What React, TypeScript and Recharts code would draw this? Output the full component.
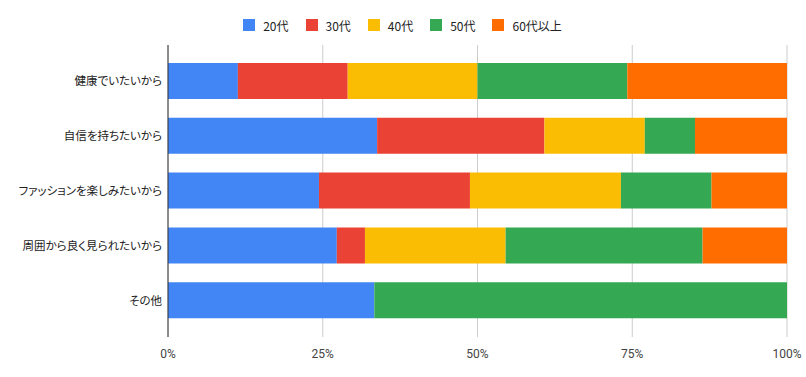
import { type CSSProperties } from 'react'
import { BarChart, Bar, XAxis, YAxis, CartesianGrid } from 'recharts'

const categories = [
  '健康でいたいから',
  '自信を持ちたいから',
  'ファッションを楽しみたいから',
  '周囲から良く見られたいから',
  'その他',
]

const age20s = [7, 25, 10, 6, 1]
const age30s = [11, 20, 10, 1, 0]
const age40s = [13, 12, 10, 5, 0]
const age50s = [15, 6, 6, 7, 2]
const age60plus = [16, 11, 5, 3, 0]

const percentTicks = [0, 0.25, 0.5, 0.75, 1]

const series = [
  { key: '20代', values: age20s, color: '#4285F4' },
  { key: '30代', values: age30s, color: '#EA4335' },
  { key: '40代', values: age40s, color: '#FBBC04' },
  { key: '50代', values: age50s, color: '#34A853' },
  { key: '60代以上', values: age60plus, color: '#FF6D01' },
]

const data = categories.map((name, i) => {
  const row: Record<string, string | number> = { name }
  series.forEach((s) => {
    row[s.key] = s.values[i]
  })
  return row
})

const fontFamily = '"Noto Sans CJK JP", Roboto, "Noto Sans", sans-serif'

const wrapperStyle: CSSProperties = {
  position: 'absolute',
  left: 0,
  top: 0,
  width: 806,
  height: 377,
  background: '#fff',
  fontFamily,
}

const legendStyle: CSSProperties = {
  position: 'absolute',
  top: 16,
  left: 0,
  width: 806,
  height: 18,
  display: 'flex',
  justifyContent: 'center',
  alignItems: 'center',
  paddingLeft: 16,
  boxSizing: 'border-box',
  zIndex: 1,
}

function ChartLegend() {
  return (
    <div style={legendStyle}>
      {series.map((s) => (
        <div key={s.key} style={{ display: 'flex', alignItems: 'center', marginRight: 17 }}>
          <span style={{ width: 12, height: 12, background: s.color, display: 'inline-block', marginRight: 8 }} />
          <span style={{ fontSize: 12, color: '#222', fontFamily }}>{s.key}</span>
        </div>
      ))}
    </div>
  )
}

export default function App() {
  return (
    <div style={wrapperStyle}>
      <ChartLegend />
      <BarChart
        width={806}
        height={377}
        data={data}
        layout="vertical"
        stackOffset="expand"
        margin={{ top: 45, right: 19, bottom: 10, left: 0 }}
      >
        <CartesianGrid horizontal={false} stroke="#cccccc" />
        <XAxis
          type="number"
          domain={[0, 1]}
          ticks={percentTicks}
          tickFormatter={(v: number) => `${Math.round(v * 100)}%`}
          axisLine={false}
          tickLine={false}
          height={30}
          tickMargin={6}
          tick={{ fill: '#444', fontSize: 12, fontFamily: 'Roboto, sans-serif' }}
        />
        <YAxis
          type="category"
          dataKey="name"
          width={168}
          axisLine={{ stroke: '#333' }}
          tickLine={false}
          tickSize={4}
          tickMargin={2}
          padding={{ top: 9, bottom: 9 }}
          tick={{ fill: '#222', fontSize: 11.5, fontFamily, style: { fontFeatureSettings: '"palt"' } }}
        />
        {series.map((s) => (
          <Bar key={s.key} dataKey={s.key} stackId="a" fill={s.color} barSize={36} isAnimationActive={false} />
        ))}
      </BarChart>
    </div>
  )
}
